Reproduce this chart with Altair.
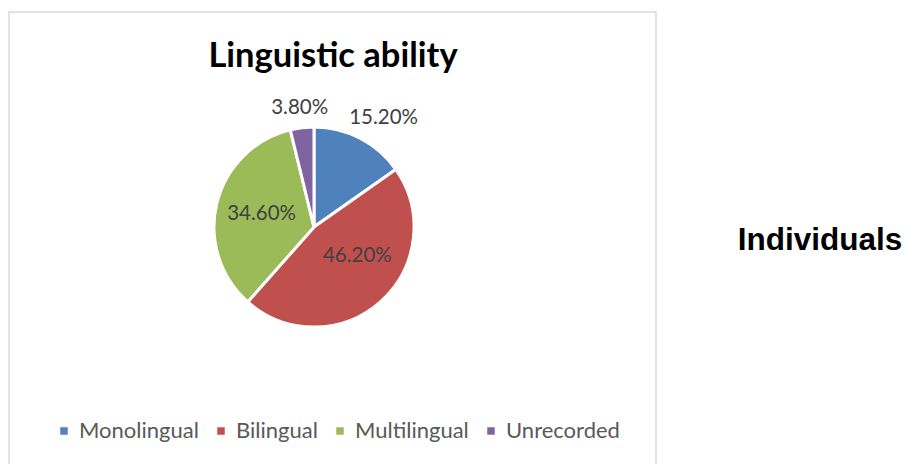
import altair as alt
import pandas as pd

# Linguistic ability of the recorded individuals (percent of total)
categories = ["Monolingual", "Bilingual", "Multilingual", "Unrecorded"]
shares = [15.2, 46.2, 34.6, 3.8]
share_labels = ["15.20%", "46.20%", "34.60%", "3.80%"]
colors = ["#4F81BD", "#C0504D", "#9BBB59", "#8064A2"]
title_text = "Linguistic ability"
side_text = "Individuals"

df = pd.DataFrame({
    "category": categories,
    "share": shares,
    "label": share_labels,
    "order": list(range(len(categories))),
})

CX, CY = 305, 215  # pie centre inside the framed view
FONT = "Lato"

# start / end / middle angle of each slice, clockwise from 12 o'clock
base = (
    alt.Chart(df)
    .transform_joinaggregate(total="sum(share)")
    .transform_window(cum="sum(share)", sort=[alt.SortField("order")])
    .transform_calculate(a0="2 * PI * (datum.cum - datum.share) / datum.total")
    .transform_calculate(a1="2 * PI * datum.cum / datum.total")
    .transform_calculate(mid="(datum.a0 + datum.a1) / 2")
)

pie = base.mark_arc(outerRadius=100, stroke="white", strokeWidth=3).encode(
    theta=alt.Theta("a0:Q", scale=None),
    theta2="a1:Q",
    x=alt.value(CX),
    y=alt.value(CY),
    color=alt.Color(
        "category:N",
        scale=alt.Scale(domain=categories, range=colors),
        legend=alt.Legend(
            title=None,
            orient="none",
            legendX=44,
            legendY=408,
            direction="horizontal",
            columns=4,
            symbolType="square",
            symbolSize=56,
            symbolStrokeWidth=0,
            labelFont=FONT,
            labelFontSize=22,
            labelColor="#595959",
            labelOffset=4,
            columnPadding=11,
            padding=0,
        ),
    ),
)


def slice_label(cat, radius, dx=0, dy=0):
    return (
        base.transform_filter(alt.datum.category == cat)
        .mark_text(radius=radius, dx=dx, dy=dy, font=FONT, fontSize=20.5,
                   color="#404040", baseline="middle", align="center")
        .encode(
            theta=alt.Theta("mid:Q", scale=None),
            x=alt.value(CX),
            y=alt.value(CY),
            text="label:N",
        )
    )


labels = [
    slice_label("Monolingual", 123, dx=13),
    slice_label("Bilingual", 53, dx=8, dy=-10),
    slice_label("Multilingual", 54),
    slice_label("Unrecorded", 120),
]

title = alt.Chart(pd.DataFrame({"t": [title_text]})).mark_text(
    font=FONT, fontWeight="bold", fontSize=34.5, color="#000000",
    baseline="alphabetic", align="center",
).encode(text="t:N", x=alt.value(324), y=alt.value(55))

side = alt.Chart(pd.DataFrame({"t": [side_text]})).mark_text(
    font="Liberation Sans", fontWeight="bold", fontSize=31.5, color="#000000",
    baseline="alphabetic", align="center",
).encode(text="t:N", x=alt.value(811), y=alt.value(238))

chart = (
    alt.layer(pie, *labels, title, side)
    .properties(
        width=647,
        height=460,
        padding={"left": 9, "top": 12, "right": 251, "bottom": 0},
        autosize="none",
        background="white",
    )
    .configure_view(stroke="#D9D9D9", strokeWidth=1.5)
)

chart.save("out.html", embed_options={"renderer": "svg", "actions": False})
